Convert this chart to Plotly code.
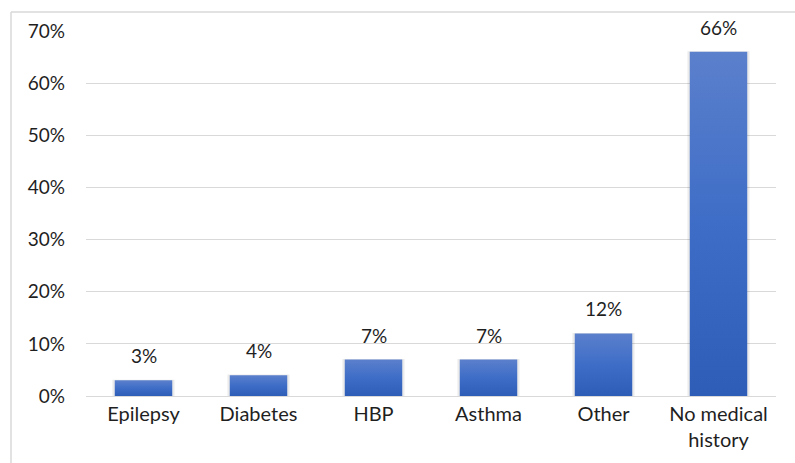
import plotly.graph_objects as go

# Share of respondents by medical history
categories = ["Epilepsy", "Diabetes", "HBP", "Asthma", "Other", "No medical<br>history"]
shares = [0.03, 0.04, 0.07, 0.07, 0.12, 0.66]
y_ticks = [0, 0.1, 0.2, 0.3, 0.4, 0.5, 0.6, 0.7]
y_tick_text = ["0%", "10%", "20%", "30%", "40%", "50%", "60%", "70%"]

BAR_HALF = 0.25
FONT = "Lato"
TEXT_COLOR = "#1f1f1f"
GRID = "#d9d9d9"

fig = go.Figure()

for i, v in enumerate(shares):
    # soft shadow behind the bar
    fig.add_trace(go.Scatter(
        x=[i - BAR_HALF - 0.02, i + BAR_HALF + 0.02, i + BAR_HALF + 0.02, i - BAR_HALF - 0.02, i - BAR_HALF - 0.02],
        y=[0, 0, v + 0.001, v + 0.001, 0],
        mode="lines", line=dict(width=0), fill="toself",
        fillcolor="rgba(0,0,0,0.08)", hoverinfo="skip", showlegend=False,
    ))
    # bar with a vertical gradient, lighter at the top
    fig.add_trace(go.Scatter(
        x=[i - BAR_HALF, i + BAR_HALF, i + BAR_HALF, i - BAR_HALF, i - BAR_HALF],
        y=[0, 0, v, v, 0],
        mode="lines", line=dict(width=0), fill="toself",
        fillgradient=dict(type="vertical",
                          colorscale=[[0, "#2d5db7"], [0.5, "#3e6dc7"], [1, "#5b80cc"]]),
        hoverinfo="skip", showlegend=False,
    ))
    fig.add_annotation(
        x=i, y=v, text=f"{round(v * 100)}%", showarrow=False,
        yanchor="bottom", yshift=11,
        font=dict(family=FONT, size=19, color=TEXT_COLOR),
    )

# chart border (left and top edges)
bx = (11 - 86) / 690
by = (396 - 12) / 365
fig.add_shape(type="line", xref="paper", yref="paper", x0=bx, x1=1.5, y0=by, y1=by,
              line=dict(color=GRID, width=1.5))
fig.add_shape(type="line", xref="paper", yref="paper", x0=bx, x1=bx, y0=by, y1=-0.5,
              line=dict(color=GRID, width=1.5))

fig.update_layout(
    width=795, height=463,
    margin=dict(l=86, r=19, t=31, b=67),
    paper_bgcolor="white", plot_bgcolor="white",
    font=dict(family=FONT, size=19, color=TEXT_COLOR),
    xaxis=dict(
        range=[-0.5, len(categories) - 0.5],
        tickvals=list(range(len(categories))), ticktext=categories,
        showgrid=False, zeroline=False, showline=False, ticks="",
        ticklabelstandoff=4,
        tickfont=dict(family=FONT, size=20, color=TEXT_COLOR),
    ),
    yaxis=dict(
        range=[0, 0.7], tickvals=y_ticks, ticktext=y_tick_text,
        showgrid=True, gridcolor=GRID, gridwidth=1,
        zeroline=True, zerolinecolor=GRID, zerolinewidth=1,
        showline=False, ticks="", ticklabelstandoff=20,
        tickfont=dict(family=FONT, size=19, color=TEXT_COLOR),
    ),
)

fig.write_html("out.html")
